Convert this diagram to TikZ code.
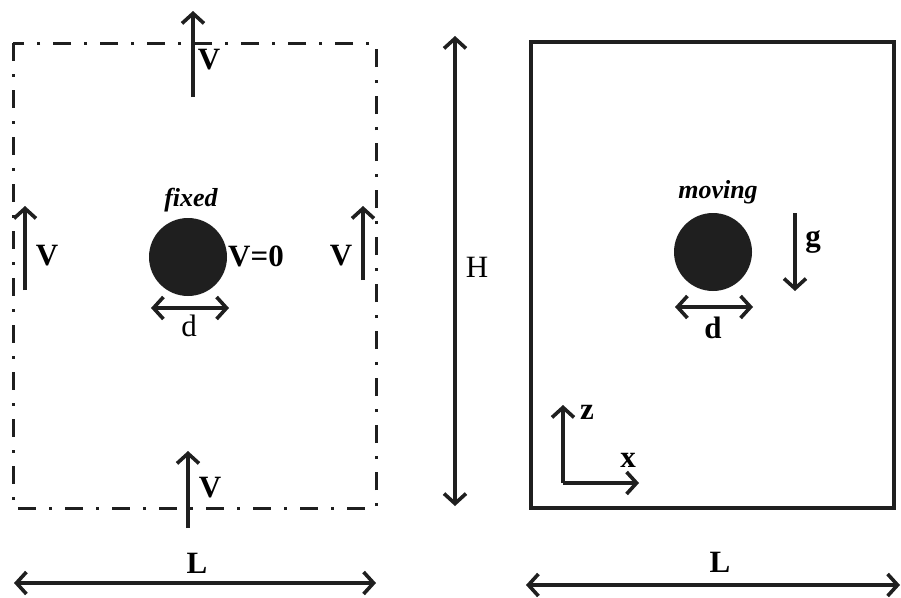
\documentclass[tikz,border=0pt]{standalone}
\usepackage{fontspec}
\setmainfont{Liberation Serif}
\usetikzlibrary{arrows.meta}
\tikzset{
  lw/.style={line width=3.6pt, draw=black!88},
  tip/.tip={Straight Barb[length=10pt,width=22pt]},
  arr/.style={lw, -tip},
  darr/.style={lw, tip-tip},
  bl/.style={font=\fontsize{31}{33}\selectfont\bfseries, inner sep=0pt},
  rl/.style={font=\fontsize{31}{33}\selectfont, inner sep=0pt},
  il/.style={font=\fontsize{26}{28}\selectfont\bfseries\itshape, inner sep=0pt},
  ball/.style={circle, fill=black!88, minimum size=78pt, inner sep=0pt}
}
\begin{document}
\begin{tikzpicture}[x=1pt,y=-1pt]
\useasboundingbox (0,0) rectangle (901,597);
% left domain
\draw[line width=3pt, draw=black!88, dash pattern=on 18pt off 13pt on 3pt off 13pt] (13,43) rectangle (376,508);
\coordinate (t0) at (193,97); \coordinate (t1) at (193,11);
\draw[arr] (t0) -- (t1);
\node[bl] (vt) at (209,60) {V};
\coordinate (l0) at (25,290); \coordinate (l1) at (25,206);
\draw[arr] (l0) -- (l1);
\node[bl] (vl) at (47,256) {V};
\coordinate (r0) at (363,280); \coordinate (r1) at (363,206);
\draw[arr] (r0) -- (r1);
\node[bl] (vr) at (341,256) {V};
\coordinate (b0) at (188,528); \coordinate (b1) at (188,451);
\draw[arr] (b0) -- (b1);
\node[bl] (vb) at (210,488) {V};
\node[ball] (c1) at (188,257) {};
\node[il] (fx) at (191,200) {fixed};
\node[bl, anchor=west] (v0) at (228,256) {V=0};
\coordinate (d0) at (151,308); \coordinate (d1) at (229,308);
\draw[darr] (d0) -- (d1);
\node[rl] (dl) at (189,326) {d};
\coordinate (L0) at (14,583); \coordinate (L1) at (376,583);
\draw[darr] (L0) -- (L1);
\node[bl] (Ll) at (197,563) {L};
% H
\coordinate (h0) at (455,36); \coordinate (h1) at (455,506);
\draw[darr] (h0) -- (h1);
\node[rl] (H) at (477,267) {H};
% right domain
\draw[line width=3.2pt, draw=black!88] (531,42) rectangle (894,508);
\node[ball] (c2) at (713,252) {};
\node[il] (mv) at (718,192) {moving};
\coordinate (g0) at (795,213); \coordinate (g1) at (795,291);
\draw[arr] (g0) -- (g1);
\node[bl] (gl) at (813,242) {g};
\coordinate (e0) at (675,307); \coordinate (e1) at (753,307);
\draw[darr] (e0) -- (e1);
\node[bl] (dr) at (713,328) {d};
\coordinate (o) at (563,483); \coordinate (oz) at (563,405); \coordinate (ox) at (639,483);
\draw[arr] (o) -- (oz);
\draw[arr] (o) -- (ox);
\node[bl] (zl) at (587,412) {z};
\node[bl] (xl) at (628,460) {x};
\coordinate (M0) at (526,585); \coordinate (M1) at (900,585);
\draw[darr] (M0) -- (M1);
\node[bl] (Lr) at (720,562) {L};
\end{tikzpicture}
\end{document}
